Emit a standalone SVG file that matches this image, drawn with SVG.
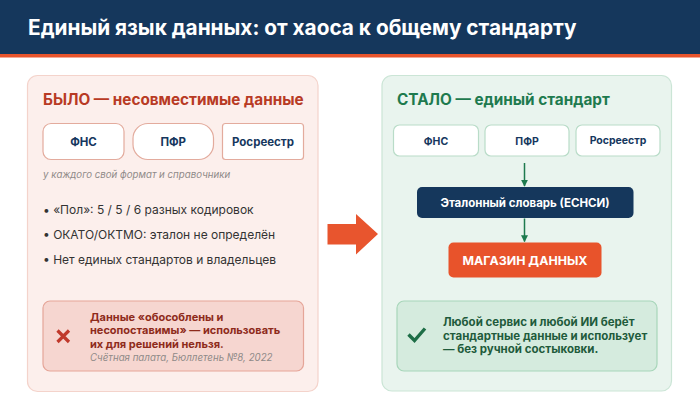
<svg xmlns="http://www.w3.org/2000/svg" width="700" height="420" viewBox="0 0 700 420">
<defs>
<style>
text{font-family:Inter,"Noto Sans","Liberation Sans",sans-serif}
.b{font-weight:700}
.src{fill:#fff;stroke:#e3ab9d;stroke-width:1.2}
.srcg{fill:#fff;stroke:#b9dcc8;stroke-width:1.2}
.lbl{font-size:11.5px;font-weight:700;fill:#16375e;text-anchor:middle}
.lblg{font-size:10.5px;font-weight:700;fill:#16375e;text-anchor:middle}
.bul{font-size:12px;fill:#333}
.cap{font-size:9.7px;font-style:italic;fill:#8f8a88}
.conn{stroke:#1e7a4e;stroke-width:1.5;fill:none}
</style>
<marker id="ah" viewBox="0 0 10 10" refX="9" refY="5" markerWidth="7" markerHeight="7" markerUnits="userSpaceOnUse" orient="auto"><path d="M0,0L10,5L0,10z" fill="#1e7a4e"/></marker>
</defs>
<rect width="700" height="420" fill="#fff"/>
<g id="header">
<rect x="0" y="0" width="700" height="54" fill="#15375c"/>
<rect x="0" y="54" width="700" height="3.5" fill="#e8542c"/>
<text x="28" y="34.5" class="b" font-size="20.8" fill="#fff">Единый язык данных: от хаоса к общему стандарту</text>
</g>
<g id="before">
<rect x="27.5" y="75.5" width="290.5" height="316" rx="10" fill="#fcefec" stroke="#f4d3cb" stroke-width="1.2"/>
<text x="43" y="105" class="b" font-size="15.3" fill="#b83a24">БЫЛО — несовместимые данные</text>
<g id="fns-old"><rect x="43" y="123.5" width="81" height="36" rx="8" class="src"/><text x="83.5" y="145.5" class="lbl">ФНС</text></g>
<g id="pfr-old"><rect x="133" y="123.5" width="80.5" height="36" rx="15" class="src"/><text x="173.25" y="145.5" class="lbl">ПФР</text></g>
<g id="ros-old"><rect x="222.5" y="123.5" width="81" height="36" rx="3" class="src"/><text x="263" y="145.5" class="lbl">Росреестр</text></g>
<text x="43" y="178" class="cap">у каждого свой формат и справочники</text>
<text x="43" y="214" class="bul">• «Пол»: 5 / 5 / 6 разных кодировок</text>
<text x="43" y="239" class="bul">• ОКАТО/ОКТМО: эталон не определён</text>
<text x="43" y="264" class="bul">• Нет единых стандартов и владельцев</text>
<g id="warn">
<rect x="43" y="301" width="260.5" height="70" rx="7" fill="#f6d6d0" stroke="#e5a598" stroke-width="1.2"/>
<path d="M57.5,330.5L69,342M69,330.5L57.5,342" stroke="#c0392b" stroke-width="3.2" stroke-linecap="butt"/>
<text class="b" font-size="11" fill="#8e2b1b"><tspan x="90" y="321">Данные «обособлены и</tspan><tspan x="90" y="334.4">несопоставимы» — использовать</tspan><tspan x="90" y="347.8">их для решений нельзя.</tspan></text>
<text x="90" y="361" class="cap" font-size="8.8">Счётная палата, Бюллетень №8, 2022</text>
</g>
</g>
<g id="transition">
<path d="M327.5,224H356V214L378,234L356,254.5V244.5H327.5z" fill="#e8552e"/>
</g>
<g id="after">
<rect x="382" y="75.5" width="289.5" height="315.5" rx="10" fill="#e9f4ee" stroke="#cbe5d6" stroke-width="1.2"/>
<text x="397" y="105" class="b" font-size="15.3" fill="#1e7a4e">СТАЛО — единый стандарт</text>
<g id="fns-new"><rect x="393.5" y="125" width="85" height="31" rx="6" class="srcg"/><text x="436" y="144.5" class="lblg">ФНС</text></g>
<g id="pfr-new"><rect x="485" y="125" width="84" height="31" rx="6" class="srcg"/><text x="527" y="144.5" class="lblg">ПФР</text></g>
<g id="ros-new"><rect x="576" y="125" width="84" height="31" rx="6" class="srcg"/><text x="618" y="144" class="lblg" font-size="10">Росреестр</text></g>
<g id="esnsi"><rect x="417" y="187" width="216.5" height="31" rx="5" fill="#15375c"/><text x="525" y="206.5" class="b" font-size="11.5" fill="#fff" text-anchor="middle">Эталонный словарь (ЕСНСИ)</text></g>
<g id="store"><rect x="448.5" y="242.5" width="153" height="35" rx="5" fill="#e8532b"/><text x="525" y="265" class="b" font-size="12.4" fill="#fff" text-anchor="middle">МАГАЗИН ДАННЫХ</text></g>
<g id="ok">
<rect x="397" y="301" width="260" height="70" rx="7" fill="#d5ebde" stroke="#a8d6ba" stroke-width="1.2"/>
<path d="M408.5,334.5L414.5,340.5L425,328.5" stroke="#1e6e47" stroke-width="3.4" fill="none" stroke-linecap="butt"/>
<text class="b" font-size="11.5" fill="#1f5b3c"><tspan x="443" y="325.5">Любой сервис и любой ИИ берёт</tspan><tspan x="443" y="339.5">стандартные данные и использует</tspan><tspan x="443" y="353">— без ручной состыковки.</tspan></text>
</g>
</g>
<g id="connectors">
<line x1="524.5" y1="163" x2="524.5" y2="186" class="conn" marker-end="url(#ah)"/>
<line x1="524.5" y1="218.5" x2="524.5" y2="241.5" class="conn" marker-end="url(#ah)"/>
</g>
</svg>
